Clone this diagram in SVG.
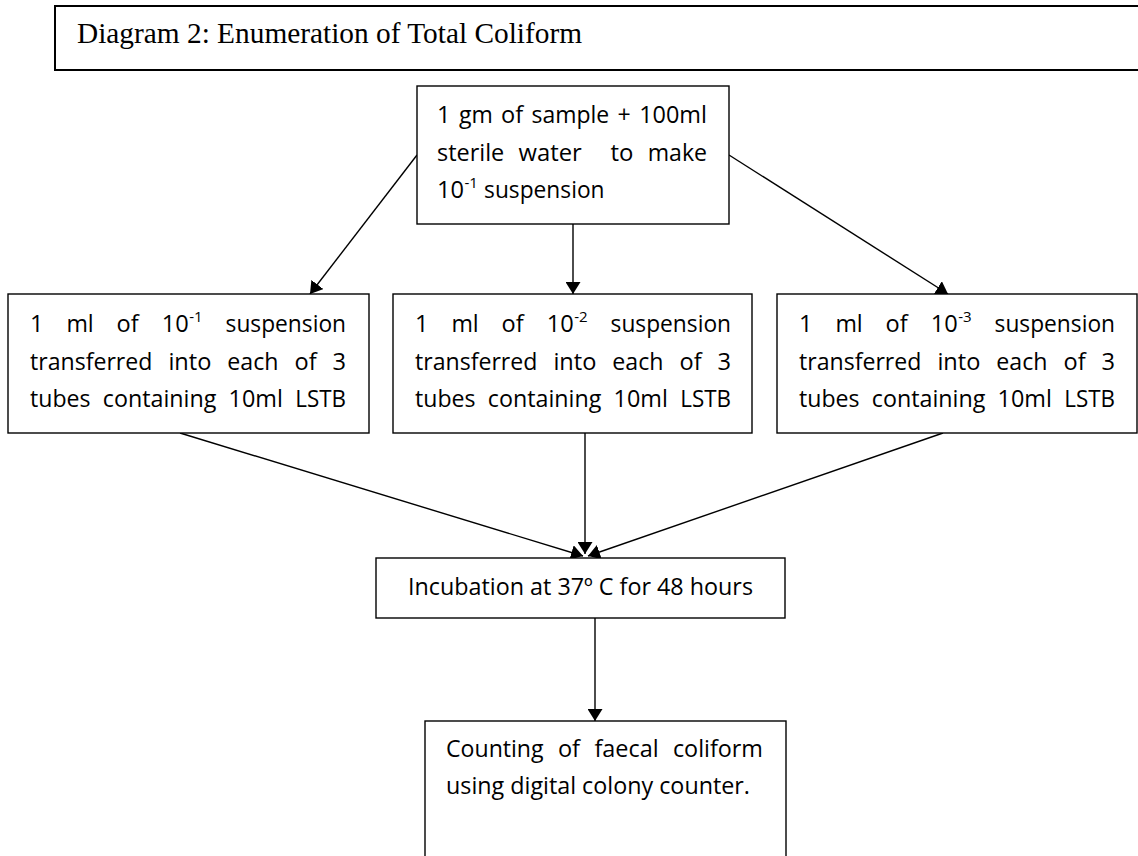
<svg xmlns="http://www.w3.org/2000/svg" width="1138" height="856" viewBox="0 0 1138 856">
<style>
.box{fill:#fff;stroke:#000;stroke-width:1.4}
.title{fill:#fff;stroke:#000;stroke-width:2}
.t{font-family:"Open Sans","Liberation Sans",sans-serif;font-size:23px;fill:#000}
.s{font-family:"Open Sans","Liberation Sans",sans-serif;font-size:15px;fill:#000}
.tt{font-family:"Liberation Serif","Times New Roman",serif;font-size:29px;fill:#000}
.c{stroke:#000;stroke-width:1.4;fill:none;marker-end:url(#ah)}
</style>
<defs>
<marker id="ah" viewBox="0 0 12 15" markerWidth="12" markerHeight="15" refX="12" refY="7.5" orient="auto" markerUnits="userSpaceOnUse">
<path d="M0,0 L12,7.5 L0,15 z" fill="#000"/>
</marker>
</defs>
<rect width="1138" height="856" fill="#fff"/>

<g id="title">
<rect class="title" x="55" y="6" width="1100" height="64"/>
<text class="tt" x="77" y="43" textLength="505" lengthAdjust="spacingAndGlyphs">Diagram 2: Enumeration of Total Coliform</text>
</g>

<g id="connectors">
<line class="c" x1="417" y1="155" x2="310" y2="294"/>
<line class="c" x1="573" y1="224" x2="573" y2="294"/>
<line class="c" x1="729" y1="155" x2="948" y2="294"/>
<line class="c" x1="180" y1="433" x2="583" y2="556"/>
<line class="c" x1="585" y1="433" x2="585" y2="554"/>
<line class="c" x1="943" y1="433" x2="588" y2="556"/>
<line class="c" x1="595" y1="618" x2="595" y2="721"/>
</g>

<g id="start">
<rect class="box" x="417" y="86" width="312" height="138"/>
<g transform="translate(437,0)">
<text class="t" x="0" y="123" textLength="13.5" lengthAdjust="spacingAndGlyphs">1</text>
<text class="t" x="21.9" y="123" textLength="33.8" lengthAdjust="spacingAndGlyphs">gm</text>
<text class="t" x="64" y="123" textLength="22.1" lengthAdjust="spacingAndGlyphs">of</text>
<text class="t" x="94.5" y="123" textLength="77.7" lengthAdjust="spacingAndGlyphs">sample</text>
<text class="t" x="180.6" y="123" textLength="13.2" lengthAdjust="spacingAndGlyphs">+</text>
<text class="t" x="202.2" y="123" textLength="67.8" lengthAdjust="spacingAndGlyphs">100ml</text>
<text class="t" x="0" y="160.5" textLength="67.3" lengthAdjust="spacingAndGlyphs">sterile</text>
<text class="t" x="81.6" y="160.5" textLength="63.2" lengthAdjust="spacingAndGlyphs">water</text>
<text class="t" x="173.4" y="160.5" textLength="22.9" lengthAdjust="spacingAndGlyphs">to</text>
<text class="t" x="210.7" y="160.5" textLength="59.3" lengthAdjust="spacingAndGlyphs">make</text>
<text class="t" x="0" y="198" textLength="27" lengthAdjust="spacingAndGlyphs">10</text>
<text class="s" x="27.5" y="188" textLength="13.5" lengthAdjust="spacingAndGlyphs">-1</text>
<text class="t" x="47.1" y="198" textLength="120.4" lengthAdjust="spacingAndGlyphs">suspension</text>
</g>
</g>

<g id="dil1">
<rect class="box" x="8" y="294" width="361" height="139"/>
<g transform="translate(30,0)">
<text class="t" x="0" y="332" textLength="13.5" lengthAdjust="spacingAndGlyphs">1</text>
<text class="t" x="36.4" y="332" textLength="27.3" lengthAdjust="spacingAndGlyphs">ml</text>
<text class="t" x="86.6" y="332" textLength="22.1" lengthAdjust="spacingAndGlyphs">of</text>
<text class="t" x="131.7" y="332" textLength="27" lengthAdjust="spacingAndGlyphs">10</text>
<text class="s" x="159.2" y="322" textLength="13.5" lengthAdjust="spacingAndGlyphs">-1</text>
<text class="t" x="195.6" y="332" textLength="120.4" lengthAdjust="spacingAndGlyphs">suspension</text>
<text class="t" x="0" y="369.5" textLength="122.4" lengthAdjust="spacingAndGlyphs">transferred</text>
<text class="t" x="138.4" y="369.5" textLength="43" lengthAdjust="spacingAndGlyphs">into</text>
<text class="t" x="197.3" y="369.5" textLength="51.2" lengthAdjust="spacingAndGlyphs">each</text>
<text class="t" x="264.5" y="369.5" textLength="22.1" lengthAdjust="spacingAndGlyphs">of</text>
<text class="t" x="302.5" y="369.5" textLength="13.5" lengthAdjust="spacingAndGlyphs">3</text>
<text class="t" x="0" y="407" textLength="60.5" lengthAdjust="spacingAndGlyphs">tubes</text>
<text class="t" x="72.8" y="407" textLength="113.5" lengthAdjust="spacingAndGlyphs">containing</text>
<text class="t" x="198.6" y="407" textLength="54.3" lengthAdjust="spacingAndGlyphs">10ml</text>
<text class="t" x="265.2" y="407" textLength="50.8" lengthAdjust="spacingAndGlyphs">LSTB</text>
</g>
</g>

<g id="dil2">
<rect class="box" x="393" y="294" width="359" height="139"/>
<g transform="translate(415,0)">
<text class="t" x="0" y="332" textLength="13.5" lengthAdjust="spacingAndGlyphs">1</text>
<text class="t" x="36.4" y="332" textLength="27.3" lengthAdjust="spacingAndGlyphs">ml</text>
<text class="t" x="86.6" y="332" textLength="22.1" lengthAdjust="spacingAndGlyphs">of</text>
<text class="t" x="131.7" y="332" textLength="27" lengthAdjust="spacingAndGlyphs">10</text>
<text class="s" x="159.2" y="322" textLength="13.5" lengthAdjust="spacingAndGlyphs">-2</text>
<text class="t" x="195.6" y="332" textLength="120.4" lengthAdjust="spacingAndGlyphs">suspension</text>
<text class="t" x="0" y="369.5" textLength="122.4" lengthAdjust="spacingAndGlyphs">transferred</text>
<text class="t" x="138.4" y="369.5" textLength="43" lengthAdjust="spacingAndGlyphs">into</text>
<text class="t" x="197.3" y="369.5" textLength="51.2" lengthAdjust="spacingAndGlyphs">each</text>
<text class="t" x="264.5" y="369.5" textLength="22.1" lengthAdjust="spacingAndGlyphs">of</text>
<text class="t" x="302.5" y="369.5" textLength="13.5" lengthAdjust="spacingAndGlyphs">3</text>
<text class="t" x="0" y="407" textLength="60.5" lengthAdjust="spacingAndGlyphs">tubes</text>
<text class="t" x="72.8" y="407" textLength="113.5" lengthAdjust="spacingAndGlyphs">containing</text>
<text class="t" x="198.6" y="407" textLength="54.3" lengthAdjust="spacingAndGlyphs">10ml</text>
<text class="t" x="265.2" y="407" textLength="50.8" lengthAdjust="spacingAndGlyphs">LSTB</text>
</g>
</g>

<g id="dil3">
<rect class="box" x="777" y="294" width="360" height="139"/>
<g transform="translate(799,0)">
<text class="t" x="0" y="332" textLength="13.5" lengthAdjust="spacingAndGlyphs">1</text>
<text class="t" x="36.4" y="332" textLength="27.3" lengthAdjust="spacingAndGlyphs">ml</text>
<text class="t" x="86.6" y="332" textLength="22.1" lengthAdjust="spacingAndGlyphs">of</text>
<text class="t" x="131.7" y="332" textLength="27" lengthAdjust="spacingAndGlyphs">10</text>
<text class="s" x="159.2" y="322" textLength="13.5" lengthAdjust="spacingAndGlyphs">-3</text>
<text class="t" x="195.6" y="332" textLength="120.4" lengthAdjust="spacingAndGlyphs">suspension</text>
<text class="t" x="0" y="369.5" textLength="122.4" lengthAdjust="spacingAndGlyphs">transferred</text>
<text class="t" x="138.4" y="369.5" textLength="43" lengthAdjust="spacingAndGlyphs">into</text>
<text class="t" x="197.3" y="369.5" textLength="51.2" lengthAdjust="spacingAndGlyphs">each</text>
<text class="t" x="264.5" y="369.5" textLength="22.1" lengthAdjust="spacingAndGlyphs">of</text>
<text class="t" x="302.5" y="369.5" textLength="13.5" lengthAdjust="spacingAndGlyphs">3</text>
<text class="t" x="0" y="407" textLength="60.5" lengthAdjust="spacingAndGlyphs">tubes</text>
<text class="t" x="72.8" y="407" textLength="113.5" lengthAdjust="spacingAndGlyphs">containing</text>
<text class="t" x="198.6" y="407" textLength="54.3" lengthAdjust="spacingAndGlyphs">10ml</text>
<text class="t" x="265.2" y="407" textLength="50.8" lengthAdjust="spacingAndGlyphs">LSTB</text>
</g>
</g>

<g id="incubation">
<rect class="box" x="376" y="558" width="409" height="60"/>
<text class="t" x="580.5" y="595" text-anchor="middle" textLength="345" lengthAdjust="spacingAndGlyphs">Incubation at 37º C for 48 hours</text>
</g>

<g id="counting">
<rect class="box" x="425" y="721" width="361" height="170"/>
<g transform="translate(446,0)">
<text class="t" x="0" y="757" textLength="97.6" lengthAdjust="spacingAndGlyphs">Counting</text>
<text class="t" x="111.9" y="757" textLength="22.1" lengthAdjust="spacingAndGlyphs">of</text>
<text class="t" x="148.4" y="757" textLength="64.2" lengthAdjust="spacingAndGlyphs">faecal</text>
<text class="t" x="226.9" y="757" textLength="90.1" lengthAdjust="spacingAndGlyphs">coliform</text>
<text class="t" x="0" y="794" textLength="304" lengthAdjust="spacingAndGlyphs">using digital colony counter.</text>
</g>
</g>
</svg>
